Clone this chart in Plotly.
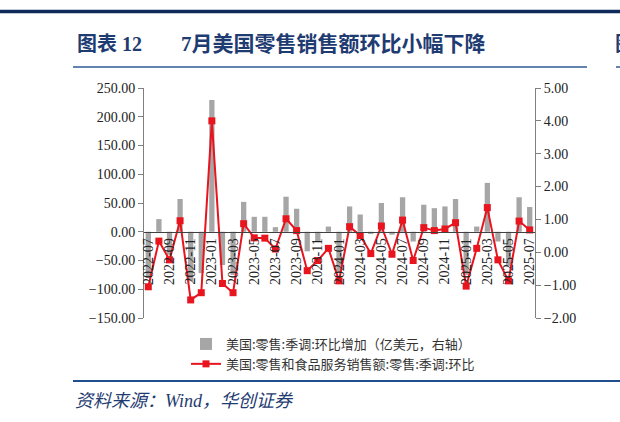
import plotly.graph_objects as go

months = ["2022-07", "2022-08", "2022-09", "2022-10", "2022-11", "2022-12",
          "2023-01", "2023-02", "2023-03", "2023-04", "2023-05", "2023-06",
          "2023-07", "2023-08", "2023-09", "2023-10", "2023-11", "2023-12",
          "2024-01", "2024-02", "2024-03", "2024-04", "2024-05", "2024-06",
          "2024-07", "2024-08", "2024-09", "2024-10", "2024-11", "2024-12",
          "2025-01", "2025-02", "2025-03", "2025-04", "2025-05", "2025-06",
          "2025-07"]

# 环比增加(亿美元) - left axis
retail_chg = [-80, 22, -40, 57, -86, -72,
              229, -58, -75, 52, 26, 26,
              8, 61, 40, -34, -17, 9,
              -70, 44, 30, -4, 50, -5,
              60, -17, 47, 41, 44, 57,
              -75, 9, 85, -17, -60, 60,
              43]

# 零售和食品服务销售额环比(%) - right axis
retail_mom = [-1.05, 0.34, -0.23, 0.96, -1.45, -1.23,
              4.00, -0.95, -1.23, 0.87, 0.44, 0.43,
              0.10, 1.02, 0.66, -0.56, -0.25, 0.12,
              -0.87, 0.78, 0.51, -0.04, 0.80, -0.06,
              0.98, -0.25, 0.75, 0.66, 0.71, 0.90,
              -1.03, 0.12, 1.36, -0.23, -0.87, 0.95,
              0.68]

tick_months = months[::2]

bar_name = "美国:零售:季调:环比增加（亿美元，右轴）"
line_name = "美国:零售和食品服务销售额:零售:季调:环比"
title_no = "图表 12"
title_txt = "7月美国零售销售额环比小幅下降"
source_txt = "资料来源：Wind，华创证券"

W, H = 620, 422
L, R, T, B = 143, 85, 88, 104
pw, ph = W - L - R, H - T - B


def px(x):
    return (x - L) / pw


def py(y):
    return (H - B - y) / ph


serif = "Liberation Serif, Noto Sans CJK SC"
cjk = "Noto Sans CJK SC"
navy = "#1F3C72"

fig = go.Figure()
fig.add_trace(go.Bar(x=months, y=retail_chg, name=bar_name,
                     marker=dict(color="#A6A6A6", line=dict(width=0))))
fig.add_trace(go.Scatter(x=months, y=retail_mom, name=line_name, yaxis="y2",
                         mode="lines+markers",
                         line=dict(color="#E8141E", width=2),
                         marker=dict(symbol="square", size=7, color="#E8141E")))

fig.update_layout(
    width=W, height=H,
    margin=dict(l=L, r=R, t=T, b=B),
    paper_bgcolor="white", plot_bgcolor="white",
    bargap=0.5,
    showlegend=True,
    legend=dict(x=px(186), y=py(329), xanchor="left", yanchor="top",
                font=dict(family=cjk, size=13, color="#333333"),
                tracegroupgap=0, bgcolor="rgba(0,0,0,0)"),
    xaxis=dict(type="category", categoryorder="array", categoryarray=months,
               range=[-0.5, len(months) - 0.5],
               tickmode="array", tickvals=tick_months, ticktext=tick_months,
               tickangle=-90, ticks="", showgrid=False,
               showline=True, linecolor="#404040", linewidth=1,
               anchor="free", position=0.375,
               tickfont=dict(family=serif, size=14, color="#222222")),
    yaxis=dict(range=[-150, 250], dtick=50, tickformat=".2f",
               showgrid=False, zeroline=False,
               showline=True, linecolor="#808080", linewidth=1,
               ticks="outside", ticklen=5, tickcolor="#808080",
               anchor="free", position=0,
               tickfont=dict(family=serif, size=14, color="#222222")),
    yaxis2=dict(range=[-2, 5], dtick=1, tickformat=".2f",
                overlaying="y", side="right",
                showgrid=False, zeroline=False,
                showline=True, linecolor="#808080", linewidth=1,
                ticks="outside", ticklen=5, tickcolor="#808080",
                anchor="free", position=1,
                tickfont=dict(family=serif, size=14, color="#222222")),
)

# frame lines
fig.add_shape(type="line", xref="paper", yref="paper",
              x0=px(0), x1=px(W), y0=py(11.5), y1=py(11.5),
              line=dict(color="#0E2B5C", width=3.5))
fig.add_shape(type="line", xref="paper", yref="paper",
              x0=px(73), x1=px(587), y0=py(67), y1=py(67),
              line=dict(color="#2E5A94", width=1.5))
fig.add_shape(type="line", xref="paper", yref="paper",
              x0=px(616), x1=px(W), y0=py(67), y1=py(67),
              line=dict(color="#2E5A94", width=1.5))
fig.add_shape(type="line", xref="paper", yref="paper",
              x0=px(73), x1=px(W), y0=py(381), y1=py(381),
              line=dict(color="#1F4E8C", width=2))

fig.add_annotation(x=px(75), y=py(44), xref="paper", yref="paper",
                   xanchor="left", yanchor="middle", showarrow=False,
                   text="<b>" + title_no + "</b>",
                   font=dict(family=serif, size=20, color=navy))
fig.add_annotation(x=px(179), y=py(44), xref="paper", yref="paper",
                   xanchor="left", yanchor="middle", showarrow=False,
                   text="<b>" + title_txt + "</b>",
                   font=dict(family=serif, size=21, color=navy))
# cut-off start of the next chart's title at the right edge, as in the source page
fig.add_annotation(x=px(613), y=py(44), xref="paper", yref="paper",
                   xanchor="left", yanchor="middle", showarrow=False,
                   text="<b>图</b>",
                   font=dict(family=serif, size=20, color=navy))
fig.add_annotation(x=px(73), y=py(401), xref="paper", yref="paper",
                   xanchor="left", yanchor="middle", showarrow=False,
                   text="<i>" + source_txt + "</i>",
                   font=dict(family=serif, size=18, color=navy))

# drop the default page margin so the figure sits at the window's corner
fig.write_html("out.html", config={"displayModeBar": False},
               post_script="document.body.style.margin='0';")
